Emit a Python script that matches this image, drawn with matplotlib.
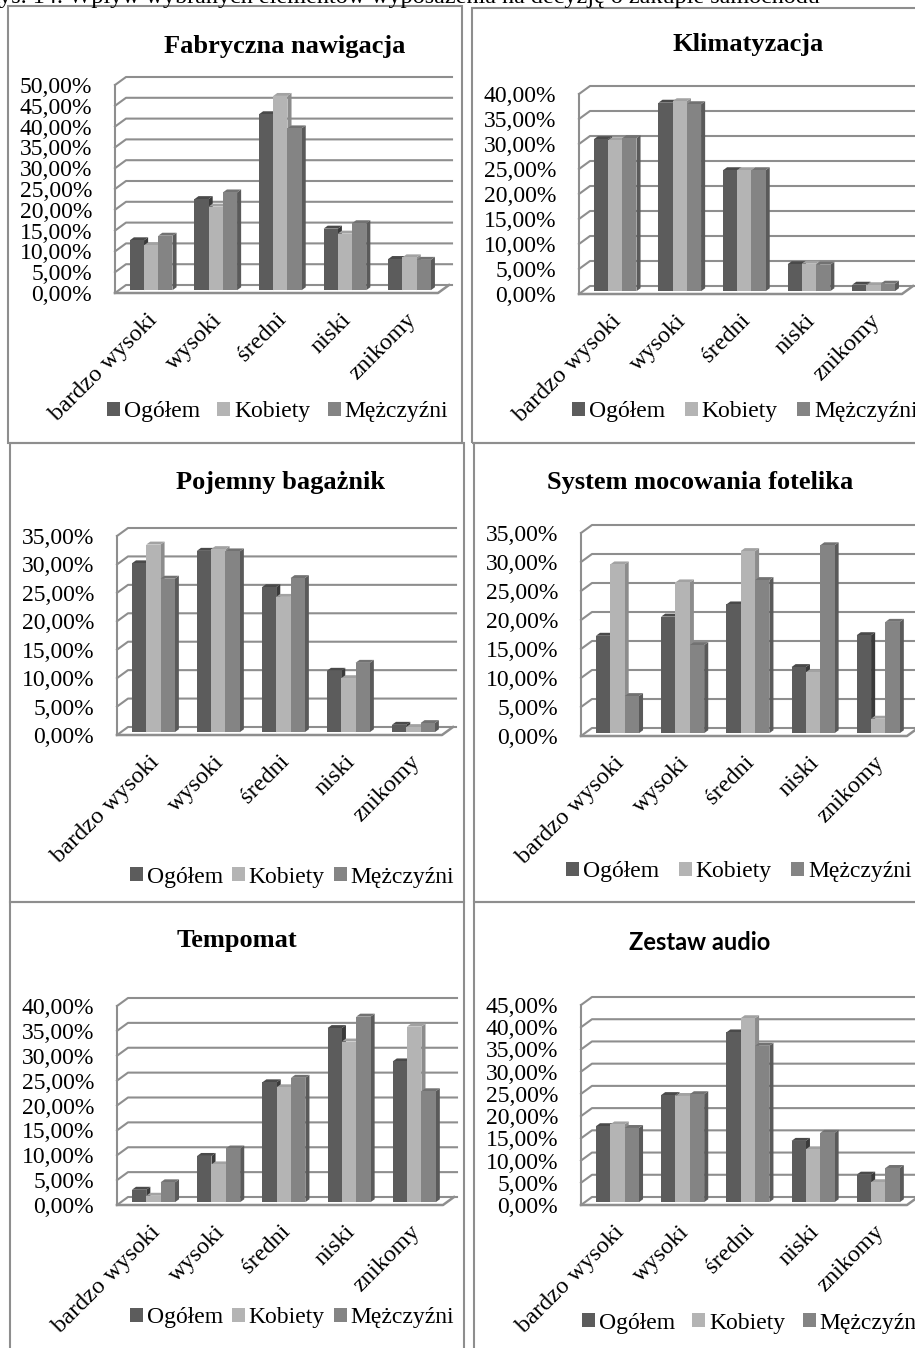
import numpy as np
import matplotlib
matplotlib.use("Agg")
import matplotlib.pyplot as plt
from matplotlib.patches import Polygon, Rectangle
from matplotlib.lines import Line2D

W, H, DPI = 915, 1348, 100

categories = ["bardzo wysoki", "wysoki", "średni", "niski", "znikomy"]
series_names = ["Ogółem", "Kobiety", "Mężczyźni"]

nawigacja_ogolem = [12.0, 21.9, 42.3, 14.8, 7.5]
nawigacja_kobiety = [10.8, 20.1, 46.7, 13.6, 7.9]
nawigacja_mezczyzni = [13.1, 23.5, 38.9, 16.1, 7.3]

klimatyzacja_ogolem = [30.4, 37.7, 24.2, 5.4, 1.3]
klimatyzacja_kobiety = [30.2, 38.0, 24.2, 5.5, 1.2]
klimatyzacja_mezczyzni = [30.6, 37.4, 24.2, 5.3, 1.5]

bagaznik_ogolem = [29.7, 31.9, 25.5, 10.8, 1.3]
bagaznik_kobiety = [33.0, 32.2, 23.8, 9.5, 0.9]
bagaznik_mezczyzni = [27.0, 31.8, 27.1, 12.2, 1.6]

fotelik_ogolem = [16.8, 20.1, 22.2, 11.4, 16.9]
fotelik_kobiety = [29.1, 26.0, 31.4, 10.5, 2.5]
fotelik_mezczyzni = [6.4, 15.2, 26.4, 32.4, 19.2]

tempomat_ogolem = [2.5, 9.3, 24.1, 35.0, 28.3]
tempomat_kobiety = [1.3, 7.6, 23.1, 32.3, 35.3]
tempomat_mezczyzni = [4.0, 10.8, 25.0, 37.3, 22.3]

audio_ogolem = [17.1, 24.1, 38.2, 13.8, 6.2]
audio_kobiety = [17.5, 23.9, 41.4, 11.9, 4.5]
audio_mezczyzni = [16.7, 24.3, 35.2, 15.6, 7.7]

caption = "Rys. 14. Wpływ wybranych elementów wyposażenia na decyzję o zakupie samochodu"

SERIF = "Liberation Serif"
SANS = "Lato"

front_colors = ["#5c5c5c", "#b4b4b4", "#848484"]
top_colors = ["#4a4a4a", "#a2a2a2", "#727272"]
side_colors = ["#3a3a3a", "#8c8c8c", "#5a5a5a"]
grid_color = "#8e8e8e"
border_color = "#8e8e8e"

# panel geometry in pixels (from the top-left corner of the page)
panels = [
    dict(title="Fabryczna nawigacja", data=(nawigacja_ogolem, nawigacja_kobiety, nawigacja_mezczyzni),
         ymax=50, box=(8, 6, 462, 443), title_xy=(285, 46), x0=115, x1=438, floor=293, top=85,
         legend_xy=(107, 412), colsp=0.75, title_family=SERIF, title_size=19),
    dict(title="Klimatyzacja", data=(klimatyzacja_ogolem, klimatyzacja_kobiety, klimatyzacja_mezczyzni),
         ymax=40, box=(472, 8, 930, 443), title_xy=(748, 45), x0=579, x1=902, floor=294, top=94,
         legend_xy=(572, 412), colsp=0.85, title_family=SERIF, title_size=19),
    dict(title="Pojemny bagażnik", data=(bagaznik_ogolem, bagaznik_kobiety, bagaznik_mezczyzni),
         ymax=35, box=(10, 443, 464, 902), title_xy=(281, 483), x0=117, x1=442, floor=735, top=536,
         legend_xy=(130, 877), colsp=0.4, title_family=SERIF, title_size=19),
    dict(title="System mocowania fotelika", data=(fotelik_ogolem, fotelik_kobiety, fotelik_mezczyzni),
         ymax=35, box=(474, 443, 930, 902), title_xy=(700, 482), x0=581, x1=907, floor=736, top=533,
         legend_xy=(566, 872), colsp=0.85, title_family=SERIF, title_size=19),
    dict(title="Tempomat", data=(tempomat_ogolem, tempomat_kobiety, tempomat_mezczyzni),
         ymax=40, box=(10, 902, 464, 1360), title_xy=(237, 940), x0=117, x1=443, floor=1205, top=1006,
         legend_xy=(130, 1318), colsp=0.4, title_family=SERIF, title_size=19),
    dict(title="Zestaw audio", data=(audio_ogolem, audio_kobiety, audio_mezczyzni),
         ymax=45, box=(474, 902, 930, 1360), title_xy=(700, 942), x0=581, x1=907, floor=1205, top=1005,
         legend_xy=(582, 1323), colsp=0.75, title_family=SANS, title_size=17),
]

DEPTH_PX = (11.0, 8.0)       # receding depth of the wall/floor
BAR_DEPTH = (0.35, 0.72)     # bar front/back position as a fraction of the depth
GROUP_W = 0.66

fig = plt.figure(figsize=(W / DPI, H / DPI), dpi=DPI)
fig.patch.set_facecolor("white")


def fx(px):
    return px / W


def fy(py):
    return 1 - py / H


# caption above the panels
fig.text(fx(-16), fy(3.5), caption, fontsize=17.4, family=SERIF, ha="left", va="baseline")

for p in panels:
    bx0, by0, bx1, by1 = p["box"]
    fig.add_artist(Rectangle((fx(bx0), fy(by1)), fx(bx1 - bx0), (by1 - by0) / H,
                             transform=fig.transFigure, fill=False,
                             edgecolor=border_color, linewidth=1.5))
    fig.text(fx(p["title_xy"][0]), fy(p["title_xy"][1]), p["title"], ha="center", va="center",
             fontsize=p["title_size"], fontweight="bold", family=p["title_family"])

    x0, x1, floor, top, ymax = p["x0"], p["x1"], p["floor"], p["top"], p["ymax"]
    ax = fig.add_axes([fx(x0), fy(floor), (x1 - x0) / W, (floor - top) / H])
    ncat = len(categories)
    ax.set_xlim(0, ncat)
    ax.set_ylim(0, ymax)
    ax.set_facecolor("none")
    for s in ax.spines.values():
        s.set_visible(False)

    px_per_cat = (x1 - x0) / ncat
    px_per_pct = (floor - top) / ymax
    ddx = DEPTH_PX[0] / px_per_cat
    ddy = DEPTH_PX[1] / px_per_pct

    # back wall gridlines with their run across the side wall
    yt = np.arange(0, ymax + 0.1, 5)
    for v in yt:
        ax.add_line(Line2D([0, ddx, ncat + ddx + 3 / px_per_cat], [v, v + ddy, v + ddy],
                           color=grid_color, lw=1.5, clip_on=False, zorder=1))
    # side wall front edge and floor
    ax.add_line(Line2D([0, 0], [0, ymax], color=grid_color, lw=1.5, clip_on=False, zorder=1))
    ax.add_line(Line2D([0, ncat, ncat + ddx], [0, 0, ddy], color=grid_color, lw=1.8,
                       clip_on=False, zorder=1))

    bw = GROUP_W / 3
    sx0, sy0 = BAR_DEPTH[0] * ddx, BAR_DEPTH[0] * ddy
    bdx, bdy = (BAR_DEPTH[1] - BAR_DEPTH[0]) * ddx, (BAR_DEPTH[1] - BAR_DEPTH[0]) * ddy
    xs = np.arange(ncat) + (1 - GROUP_W) / 2 + sx0

    handles = []
    for i in range(ncat):
        for k, vals in enumerate(p["data"]):
            v = vals[i]
            xl = xs[i] + k * bw
            xr = xl + bw
            yb, ytp = sy0, sy0 + v
            ax.add_patch(Polygon([(xr, yb), (xr + bdx, yb + bdy), (xr + bdx, ytp + bdy), (xr, ytp)],
                                 closed=True, facecolor=side_colors[k], edgecolor="none",
                                 clip_on=False, zorder=3 + i * 3 + k))
            ax.add_patch(Polygon([(xl, ytp), (xr, ytp), (xr + bdx, ytp + bdy), (xl + bdx, ytp + bdy)],
                                 closed=True, facecolor=top_colors[k], edgecolor="none",
                                 clip_on=False, zorder=3 + i * 3 + k))
    for k, vals in enumerate(p["data"]):
        bars = ax.bar(xs + k * bw, vals, width=bw, bottom=sy0, align="edge",
                      color=front_colors[k], edgecolor="none", label=series_names[k],
                      clip_on=False)
        for i, b in enumerate(bars):
            b.set_zorder(3 + i * 3 + k + 0.5)
        handles.append(bars)

    ax.set_yticks(yt)
    ax.set_yticklabels([f"{v:.2f}%".replace(".", ",") for v in yt], family=SERIF, fontsize=17)
    ax.tick_params(axis="y", length=0, pad=16.5)
    ax.set_xticks(np.arange(ncat) + 0.5 + 7 / px_per_cat)
    ax.set_xticklabels(categories, rotation=45, ha="right", va="center", rotation_mode="anchor",
                       family=SERIF, fontsize=17.5)
    ax.tick_params(axis="x", length=0, pad=17)

    lx, ly = p["legend_xy"]
    ax.legend(handles=handles, labels=series_names, loc="center left",
              bbox_to_anchor=(fx(lx), fy(ly)), bbox_transform=fig.transFigure,
              ncol=3, frameon=False, borderpad=0, borderaxespad=0,
              handlelength=0.55, handleheight=0.55, handletextpad=0.15,
              columnspacing=p["colsp"], prop=dict(family=SERIF, size=17))

fig.savefig("out.png", dpi=DPI, facecolor="white")
